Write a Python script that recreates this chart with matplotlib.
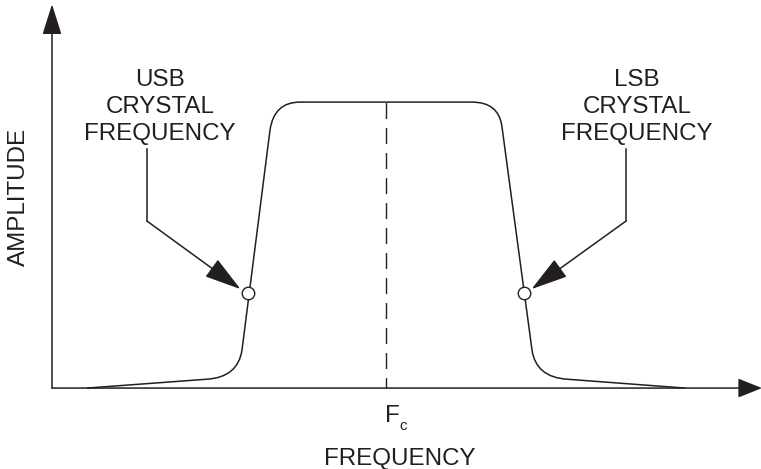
import matplotlib
matplotlib.use("Agg")
import matplotlib.pyplot as plt
from matplotlib.path import Path
from matplotlib.patches import PathPatch

plt.rcParams['font.family'] = ['Liberation Sans', 'DejaVu Sans']

INK = '#231f20'

# ---- data (frequency offset from Fc, normalised amplitude) ----
# response curve: straight segments joined by rounded (quadratic) corners
curve_freq = [-2.99, -1.79, -1.48, -1.44, -1.16, -1.12, -0.86,
              0.86, 1.13, 1.16, 1.46, 1.50, 1.81, 2.99]
curve_amp = [0.000, 0.031, 0.038, 0.133, 0.902, 1.000, 1.000,
             1.000, 1.000, 0.913, 0.133, 0.038, 0.031, 0.000]
curve_kind = ['move', 'line', 'ctrl', 'curve', 'line', 'ctrl', 'curve',
              'line', 'ctrl', 'curve', 'line', 'ctrl', 'curve', 'line']

# crystal frequency markers
crystal_freq = [-1.38, 1.38]
crystal_amp = [0.332, 0.332]
crystal_labels = ['USB\nCRYSTAL\nFREQUENCY', 'LSB\nCRYSTAL\nFREQUENCY']
label_freq = [-2.26, 2.51]
callout_freq = [-2.39, 2.40]

center_freq = 0.0
x_label = 'FREQUENCY'
y_label = 'AMPLITUDE'

# ---- figure ----
fig = plt.figure(figsize=(7.61, 4.69), dpi=100)
ax = fig.add_axes([0, 0, 1, 1])
ax.set_xlim(-3.86, 3.75)
ax.set_ylim(-0.283, 1.357)
ax.axis('off')

lw = 1.1

# axes with arrows
ax.annotate('', xy=(-3.34, 1.342), xytext=(-3.34, 0.0),
            annotation_clip=False,
            arrowprops=dict(arrowstyle='-|>,head_length=0.95,head_width=0.3',
                            mutation_scale=20,
                            shrinkA=0, shrinkB=0, lw=lw, color=INK))
ax.annotate('', xy=(3.76, 0.0), xytext=(-3.34, 0.0),
            annotation_clip=False,
            arrowprops=dict(arrowstyle='-|>,head_length=0.75,head_width=0.3',
                            mutation_scale=20,
                            shrinkA=0, shrinkB=0, lw=lw, color=INK))

# response curve
codes_map = {'move': Path.MOVETO, 'line': Path.LINETO,
             'ctrl': Path.CURVE3, 'curve': Path.CURVE3}
verts = list(zip(curve_freq, curve_amp))
codes = [codes_map[k] for k in curve_kind]
ax.add_patch(PathPatch(Path(verts, codes), fill=False, lw=lw, ec=INK,
                       joinstyle='round', zorder=3))

# centre dashed line
ax.plot([center_freq, center_freq], [0.0, 1.0], color=INK, lw=1.0,
        linestyle=(4, (11.5, 6.5)), zorder=2)

# callouts
for cf, ca, lab, lf, xf in zip(crystal_freq, crystal_amp, crystal_labels,
                               label_freq, callout_freq):
    ax.text(lf, 0.867, lab, ha='center', va='baseline', fontsize=17.4,
            color=INK, linespacing=1.31)
    ax.plot([xf, xf], [0.837, 0.584], color=INK, lw=lw)
    sign = 1 if cf > xf else -1
    ax.annotate('', xy=(cf - sign * 0.075, ca + 0.014), xytext=(xf, 0.584),
                arrowprops=dict(arrowstyle='-|>,head_length=0.55,head_width=0.16',
                                mutation_scale=42, shrinkA=0, shrinkB=0,
                                lw=lw, color=INK))
ax.plot(crystal_freq, crystal_amp, 'o', ms=9, mfc='white', mec=INK,
        mew=1.0, zorder=5)

# labels
ax.text(center_freq - 0.01, -0.119, 'F', ha='left', va='baseline',
        fontsize=17.4, color=INK)
ax.text(center_freq + 0.13, -0.147, 'c', ha='left', va='baseline',
        fontsize=11, color=INK)
ax.text(0.14, -0.269, x_label, ha='center', va='baseline', fontsize=17.4,
        color=INK)
ax.text(-3.67, 0.668, y_label, ha='center', va='center', rotation=90,
        fontsize=17.4, color=INK)

fig.savefig('out.png', dpi=100)
